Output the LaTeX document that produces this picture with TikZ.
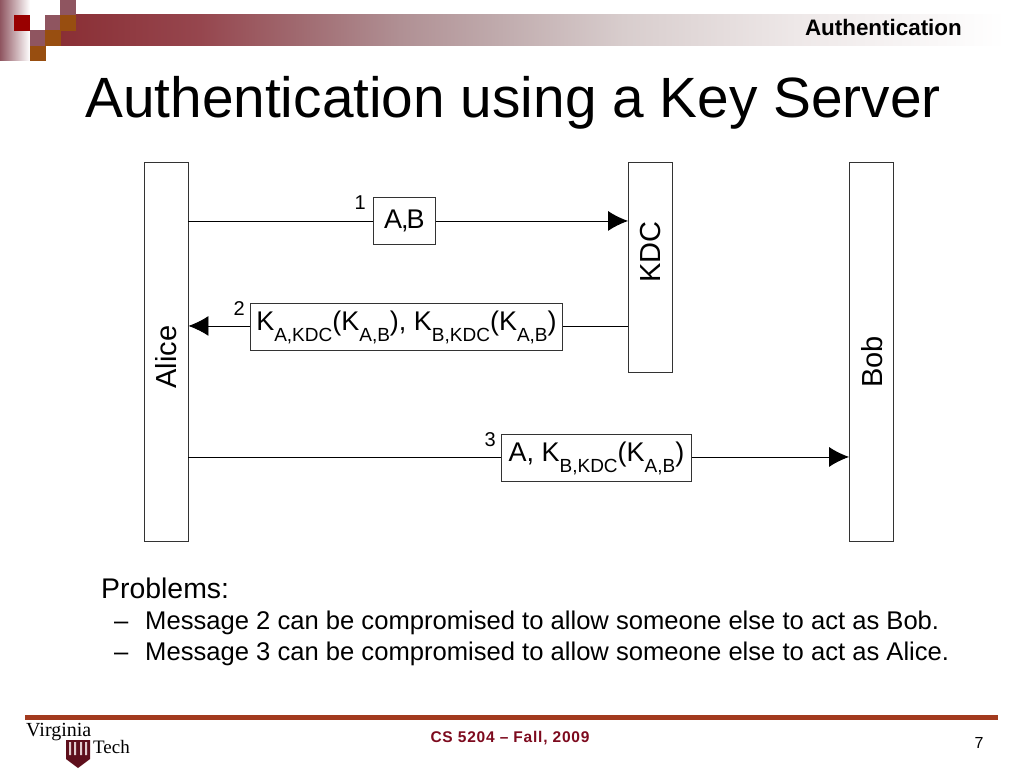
\documentclass[tikz,border=0pt]{standalone}
\usepackage{fontspec}
\setmainfont{Liberation Sans}
\newfontfamily\logofont{Liberation Serif}
\newfontfamily\footfont[LetterSpace=5]{Liberation Sans}
\usetikzlibrary{
  arrows.meta,
  positioning,
  shapes.geometric
}
\definecolor{maroon}{HTML}{8A2F35}
\definecolor{band1}{HTML}{96464E}
\definecolor{band2}{HTML}{A06A70}
\definecolor{band3}{HTML}{B09094}
\definecolor{band4}{HTML}{C0ABAD}
\definecolor{band5}{HTML}{D8CDCD}
\definecolor{band6}{HTML}{EEE8E8}
\definecolor{deepred}{HTML}{990000}
\definecolor{mauve}{HTML}{8F5560}
\definecolor{rust}{HTML}{984E10}
\definecolor{footline}{HTML}{A23A1E}
\definecolor{footred}{HTML}{7D0A1E}
\definecolor{linegrey}{HTML}{333333}
\definecolor{shieldred}{HTML}{5E0F1C}
\pgfdeclarehorizontalshading{bandfade}{100bp}{
  color(0bp)=(maroon); color(25bp)=(maroon); color(32.4bp)=(band1);
  color(37.7bp)=(band2); color(43bp)=(band3); color(48.3bp)=(band4);
  color(54.8bp)=(band5); color(64bp)=(band6);
  color(75bp)=(white); color(100bp)=(white)}
\tikzset{
  x=1pt, y=-1pt,
  party/.style={
    rectangle, draw=linegrey, fill=white, line width=0.9pt,
    minimum width=44pt, minimum height=#1, inner sep=0pt
  },
  partylabel/.style={
    rotate=90, inner sep=0pt, font=\fontsize{29}{29}\selectfont
  },
  msgbox/.style={
    rectangle, draw=linegrey, fill=white, line width=0.9pt,
    minimum height=47pt, inner sep=0pt, anchor=north west,
    font=\fontsize{27}{27}\selectfont
  },
  msgarrow/.style={
    -{Latex[length=20pt,width=20pt]}, line width=0.9pt, color=black
  },
  plainline/.style={
    line width=0.9pt, color=black
  },
  seqnum/.style={
    font=\fontsize{20}{20}\selectfont, inner sep=0pt
  },
  square/.style={
    rectangle, fill=#1, draw=none, minimum size=15.5pt, inner sep=0pt, anchor=north west
  },
  bodytext/.style={
    anchor=base west, inner sep=0pt, font=\fontsize{25.6}{25.6}\selectfont
  },
}
\newcommand{\keysub}[1]{\raisebox{-11pt}{\fontsize{19}{19}\selectfont #1}}
\begin{document}
\begin{tikzpicture}
  \useasboundingbox (0,0) rectangle (1024,768);
  % header
  \fill[shading=bandfade] (60,15) rectangle (1005,46);
  \fill[left color=mauve, right color=white] (0,0) rectangle (30,60);
  \node[square=deepred] (s1) at (14,15) {};
  \node[square=mauve] (s2) at (60,0) {};
  \node[square=mauve] (s3) at (45,15) {};
  \node[square=rust] (s4) at (60,15) {};
  \node[square=mauve] (s5) at (30,30) {};
  \node[square=rust] (s6) at (45,30) {};
  \node[square=rust] (s7) at (30,45.5) {};
  \node[anchor=base east, inner sep=0pt, font=\fontsize{22.4}{22.4}\selectfont\bfseries] (section) at (962,36) {Authentication};
  \node[anchor=base west, inner sep=0pt, font=\fontsize{56.8}{56.8}\selectfont] (title) at (85,117) {Authentication using a Key Server};
  % parties
  \node[party=379pt] (alice) at (166,351.5) {};
  \node[party=210pt] (kdc) at (650.5,267) {};
  \node[party=379pt] (bob) at (871.5,351.5) {};
  \node[partylabel] (alicetxt) at (166,357) {Alice};
  \node[partylabel] (kdctxt) at (651,252) {KDC};
  \node[partylabel] (bobtxt) at (872,362) {Bob};
  % messages
  \node[msgbox, minimum width=62pt] (m1) at (373,197) {A\kern-1pt,\kern-2pt B};
  \node[msgbox, minimum width=312pt] (m2) at (250,303) {K\keysub{A,KDC}(K\keysub{A,B}), K\keysub{B,KDC}(K\keysub{A,B})};
  \node[msgbox, minimum width=190pt] (m3) at (501,434) {A, K\keysub{B,KDC}(K\keysub{A,B})};
  \node[seqnum, above left=11pt and 7pt of m1.west] (n1) {1};
  \node[seqnum, above left=11pt and 5pt of m2.west] (n2) {2};
  \node[seqnum, above left=11pt and 5pt of m3.west] (n3) {3};
  \draw[plainline] (alice.east |- m1.west) -- (m1.west);
  \draw[msgarrow] (m1.east) -- (kdc.west |- m1.east);
  \draw[plainline] ([yshift=1pt]kdc.west |- m2.east) -- ([yshift=1pt]m2.east);
  \draw[msgarrow] ([yshift=1pt]m2.west) -- ([yshift=1pt]alice.east |- m2.west);
  \draw[plainline] ([yshift=1pt]alice.east |- m3.west) -- ([yshift=1pt]m3.west);
  \draw[msgarrow] ([yshift=1pt]m3.east) -- ([yshift=1pt]bob.west |- m3.east);
  % problems
  \node[bodytext, font=\fontsize{28.4}{28.4}\selectfont] (prob) at (101,598) {Problems:};
  \node[bodytext] (dash1) at (114,629) {--};
  \node[bodytext] (line1) at (145,629) {Message 2 can be compromised to allow someone else to act as Bob.};
  \node[bodytext] (dash2) at (114,660) {--};
  \node[bodytext] (line2) at (145,660) {Message 3 can be compromised to allow someone else to act as Alice.};
  % footer
  \fill[footline] (25,715) rectangle (998,720);
  \node[anchor=base west, inner sep=0pt, font=\logofont\fontsize{20}{20}\selectfont] (virginia) at (26,736) {Virginia};
  \node[anchor=base west, inner sep=0pt, font=\logofont\fontsize{19}{19}\selectfont] (tech) at (93,753) {Tech};
  \fill[shieldred] (66,740) -- (90,740) -- (90,759) -- (78,768) -- (66,759) -- cycle;
  \fill[white!75!maroon] (69,742) rectangle (71,755) (74,742) rectangle (76,755) (80,742) rectangle (82,755) (85,742) rectangle (87,755);
  \node[anchor=base, inner sep=0pt, font=\footfont\fontsize{15.5}{15.5}\selectfont\bfseries, text=footred] (course) at (510,742.5) {CS 5204 – Fall, 2009};
  \node[anchor=base, inner sep=0pt, font=\fontsize{16}{16}\selectfont] (page) at (979,748) {7};
\end{tikzpicture}
\end{document}
